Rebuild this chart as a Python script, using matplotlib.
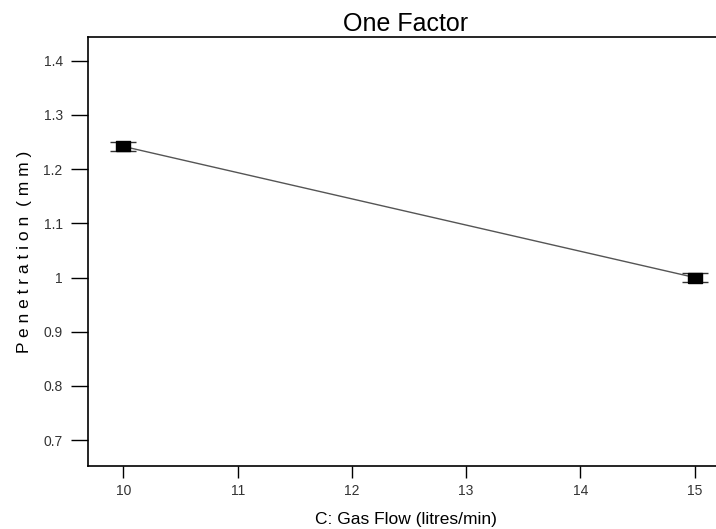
import matplotlib
matplotlib.use("Agg")
import matplotlib.pyplot as plt
from matplotlib.ticker import FuncFormatter

plt.rcParams['font.family'] = ['Liberation Sans', 'DejaVu Sans']

gas_flow = [10, 15]
penetration = [1.242, 1.000]
err = [0.009, 0.009]
x_ticks = [10, 11, 12, 13, 14, 15]
y_ticks = [0.7, 0.8, 0.9, 1.0, 1.1, 1.2, 1.3, 1.4]

fig = plt.figure(figsize=(7.16, 5.29), dpi=100)
ax = fig.add_axes([88/716, 63/529, 1.0 - 88/716 + 0.01, (466-37)/529])

ax.plot(gas_flow, penetration, color='#555555', lw=1.0, zorder=2)
ax.errorbar(gas_flow, penetration, yerr=err, fmt='none', ecolor='#333333',
            elinewidth=1.0, capsize=9.5, capthick=1.0, zorder=3)
rect = [(-1.4, -1), (1.4, -1), (1.4, 1), (-1.4, 1), (-1.4, -1)]
ax.plot(gas_flow, penetration, linestyle='none', marker=rect, markersize=9.5,
        color='black', zorder=4)

ax.set_xlim(9.69, 15.25)
ax.set_ylim(0.652, 1.444)
ax.set_xticks(x_ticks)
ax.set_yticks(y_ticks)
ax.yaxis.set_major_formatter(FuncFormatter(lambda v, p: f"{v:g}"))
ax.tick_params(axis='y', length=12.2, width=1, pad=6, labelsize=10, labelcolor='#333333')
ax.tick_params(axis='x', length=8.3, width=1, pad=5, labelsize=10, labelcolor='#333333')
ax.spines['right'].set_visible(False)
for s in ['left', 'bottom', 'top']:
    ax.spines[s].set_linewidth(1.2)

ax.set_title("One Factor", fontsize=18, pad=4)
ax.set_xlabel("C: Gas Flow (litres/min)", fontsize=12.5, labelpad=9.5)
ax.set_ylabel("P e n e t r a t i o n  ( m m )", fontsize=12.5, labelpad=8.5)

fig.savefig("out.png", dpi=100)
